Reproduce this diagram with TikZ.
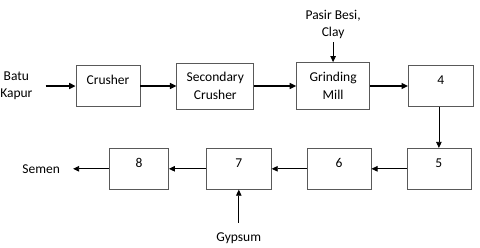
\documentclass[tikz,border=0pt]{standalone}
\usepackage{fontspec}
\setmainfont{Carlito}
\usepackage{tikz}
\usetikzlibrary{positioning}
\usetikzlibrary{arrows.meta}

\begin{document}
\begin{tikzpicture}[
    x=1pt, y=-1pt,
    font=\fontsize{13.5}{17.5}\selectfont,
    block/.style={rectangle, draw=black!65, line width=0.8pt, minimum width=64pt, minimum height=41pt, align=center, inner sep=2pt},
    single/.style={block, text height=9.5pt, text depth=13pt},
    label/.style={align=center, inner sep=3pt},
    feed/.style={-{Triangle[length=6.5pt, width=6pt]}, line width=1.4pt},
    flow/.style={-{Triangle[length=6pt, width=5.5pt]}, line width=0.8pt}
]
\useasboundingbox (0,0) rectangle (480,247);

% Top row
\node[single] (crusher) at (108,86) {Crusher};
\node[block, minimum width=77pt, minimum height=46pt] (secondary) [right=36pt of crusher] {Secondary\\Crusher};
\node[block, minimum width=73pt, minimum height=47pt] (grinding) [right=42pt of secondary] {Grinding\\Mill};
\node[single, minimum width=65pt] (box4) [right=38pt of grinding] {4};

% Bottom row
\node[single, xshift=-2pt] (box5) [below=41pt of box4] {5};
\node[single] (box6) [left=35pt of box5] {6};
\node[single, minimum width=65pt] (box7) [left=35pt of box6] {7};
\node[single, minimum width=59pt] (box8) [left=37pt of box7] {8};

% Inputs and output
\node[label] (batu) [left=40pt of crusher] {Batu\\Kapur};
\node[label] (pasir) [above=20pt of grinding] {Pasir Besi,\\Clay};
\node[label] (gypsum) [below=40pt of box7] {Gypsum};
\node[label] (semen) [left=46pt of box8] {Semen};

% Flow
\draw[feed, shorten <=10pt] (batu) -- (crusher);
\draw[feed] (crusher) -- (secondary);
\draw[feed] (secondary) -- (grinding);
\draw[feed] (grinding) -- (box4);
\draw[flow] (pasir) -- (grinding);
\draw[flow] (box4.south -| box5) -- (box5);
\draw[flow] (box5) -- (box6);
\draw[flow] (box6) -- (box7);
\draw[flow] (box7) -- (box8);
\draw[flow, shorten >=10pt] (box8) -- (semen);
\draw[flow, shorten <=7pt] (gypsum) -- (box7);

\end{tikzpicture}
\end{document}
